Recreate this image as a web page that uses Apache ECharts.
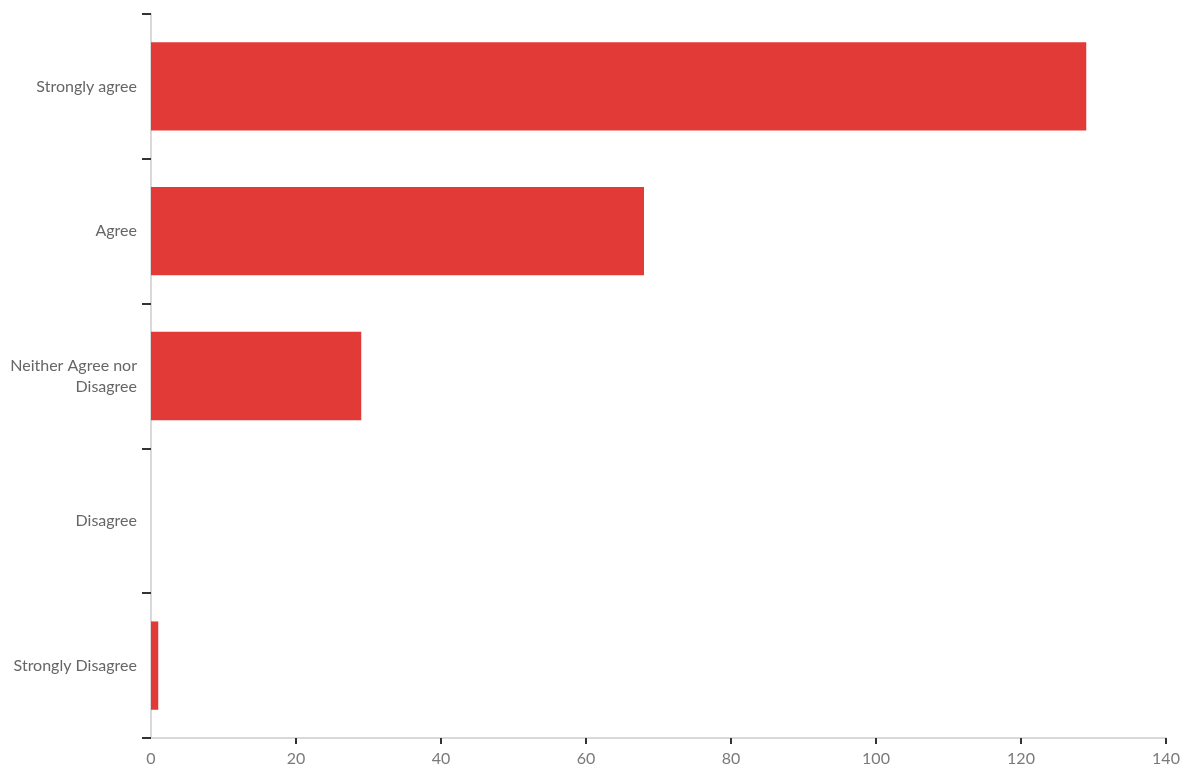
<!DOCTYPE html>
<html>
<head>
<meta charset="utf-8">
<script src="https://cdn.jsdelivr.net/npm/echarts@6/dist/echarts.min.js"></script>
<style>html,body{margin:0;padding:0;background:#fff}#c{width:1200px;height:780px}</style>
</head>
<body>
<div id="c"></div>
<script>
const categories = ['Strongly agree', 'Agree', 'Neither Agree nor\nDisagree', 'Disagree', 'Strongly Disagree'];
const values = [129, 68, 29, 0, 1];
const xTicks = { min: 0, max: 140, interval: 20 };
const xTickValues = [20, 40, 60, 80, 100, 120, 140];

const FONT = 'Lato, "Open Sans", sans-serif';
const chart = echarts.init(document.getElementById('c'));
chart.setOption({
  animation: false,
  backgroundColor: '#fff',
  grid: { left: 151, right: 34, top: 14, bottom: 42, containLabel: false },
  xAxis: {
    type: 'value', min: xTicks.min, max: xTicks.max, interval: xTicks.interval,
    axisLine: { show: true, lineStyle: { color: '#d9d9d9', width: 2 } },
    axisTick: { show: true, length: 6, customValues: xTickValues, lineStyle: { color: '#333', width: 2 } },
    axisLabel: { color: '#7a7a7a', fontSize: 16, fontFamily: FONT, margin: 13 },
    splitLine: { show: false }
  },
  yAxis: {
    type: 'category', data: categories, inverse: true,
    axisLine: { show: true, lineStyle: { color: '#d9d9d9', width: 2 } },
    axisTick: { show: true, length: 9, lineStyle: { color: '#333', width: 2 } },
    axisLabel: { color: '#666', fontSize: 16, lineHeight: 21, fontFamily: FONT, margin: 14, align: 'right' }
  },
  series: [{
    type: 'bar', data: values, barCategoryGap: '39%',
    itemStyle: { color: '#e23a36' }
  }]
});
</script>
</body>
</html>
